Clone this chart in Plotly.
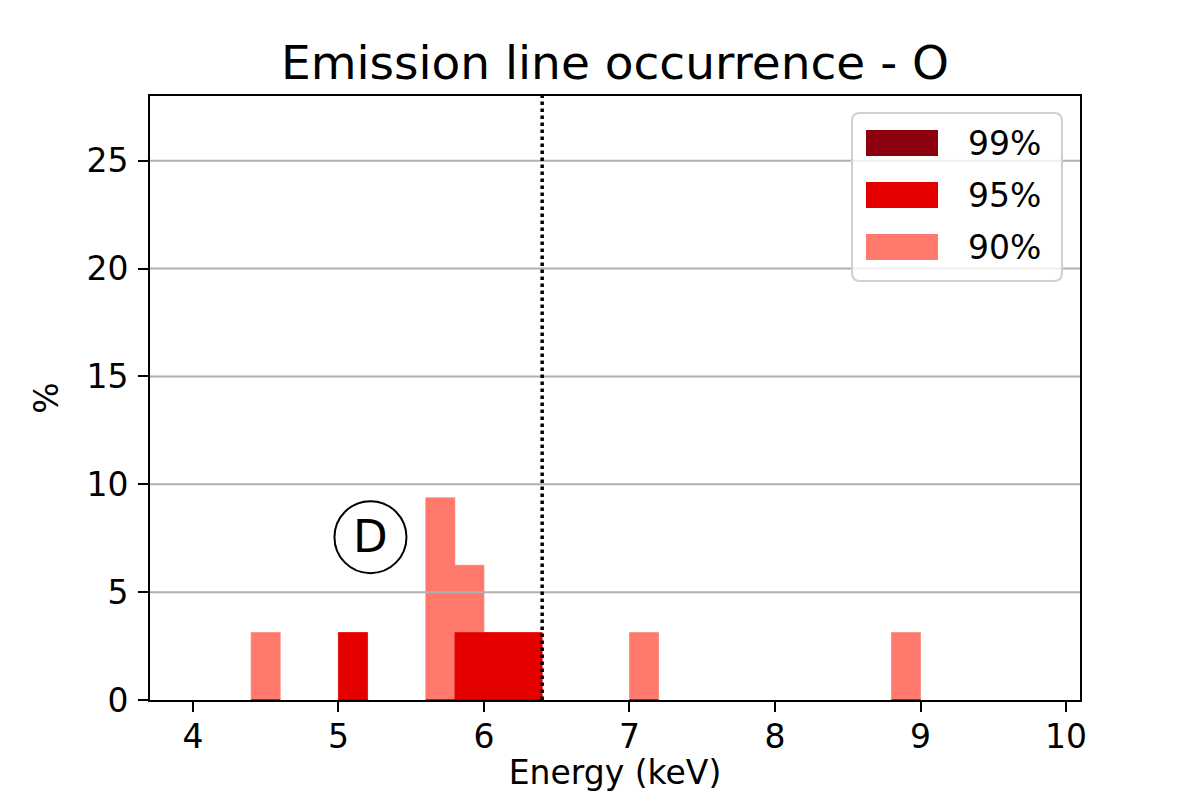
import plotly.graph_objects as go

# Histogram bins (keV, bin centres; bin width 0.2 keV)
energy_bins = [4.5, 5.1, 5.7, 5.9, 6.1, 6.3, 7.1, 8.9]
pct_90 = [3.125, 3.125, 9.375, 6.25, 3.125, 3.125, 3.125, 3.125]
pct_95 = [0.0, 3.125, 0.0, 3.125, 3.125, 3.125, 0.0, 0.0]
pct_99 = [0.0, 0.0, 0.0, 0.0, 0.0, 0.0, 0.0, 0.0]
bin_width = 0.2

series_names = ["90%", "95%", "99%"]
series_values = [pct_90, pct_95, pct_99]
series_colors = ["#ff796c", "#e50000", "#8c000f"]

x_ticks = [4, 5, 6, 7, 8, 9, 10]
y_ticks = [0, 5, 10, 15, 20, 25]
line_energy = 6.4
label_text = "D"
label_pos = (5.22, 7.55)

FONT = "DejaVu Sans"

# plot-area geometry (pixels) used to place the legend box in paper units
PW, PH = 930.0, 604.0


def px(xp):
    return (xp - 150) / PW


def py(yp):
    return (700 - yp) / PH


fig = go.Figure()
for name, vals, col in zip(series_names, series_values, series_colors):
    fig.add_trace(go.Bar(
        x=energy_bins, y=vals, width=bin_width, name=name,
        marker=dict(color=col, line=dict(width=0.6, color=col)), showlegend=False,
    ))

# horizontal grid lines drawn above the bars (as in the reference)
for yt in y_ticks[1:]:
    fig.add_shape(type="line", xref="paper", yref="y", x0=0, x1=1, y0=yt, y1=yt,
                  line=dict(color="#b0b0b0", width=2), layer="above")

# dotted vertical line
fig.add_shape(type="line", xref="x", yref="paper", x0=line_energy, x1=line_energy,
              y0=0, y1=1, line=dict(color="black", width=3.5, dash="dot"), layer="above")

# circled label
fig.add_shape(type="circle", xref="x", yref="y", xsizemode="pixel", ysizemode="pixel",
              xanchor=label_pos[0], yanchor=label_pos[1], x0=-36, x1=36, y0=-36, y1=36,
              line=dict(color="black", width=2), fillcolor="rgba(0,0,0,0)", layer="above")
fig.add_annotation(x=label_pos[0], y=label_pos[1], text=label_text, showarrow=False,
                   font=dict(family=FONT, size=45, color="black"),
                   xanchor="center", yanchor="middle", yshift=1)

# legend box (matplotlib style: rounded, light-grey frame, semi-opaque)
L, R, T, B, rad = 852, 1062, 113, 281, 8
rx, ry = rad / PW, rad / PH
x0, x1, y0, y1 = px(L), px(R), py(B), py(T)
path = (f"M{x0+rx},{y1} L{x1-rx},{y1} Q{x1},{y1} {x1},{y1-ry} "
        f"L{x1},{y0+ry} Q{x1},{y0} {x1-rx},{y0} L{x0+rx},{y0} "
        f"Q{x0},{y0} {x0},{y0+ry} L{x0},{y1-ry} Q{x0},{y1} {x0+rx},{y1} Z")
fig.add_shape(type="path", xref="paper", yref="paper", path=path,
              line=dict(color="#d0d0d0", width=2), fillcolor="rgba(255,255,255,0.8)",
              layer="above")
legend_order = list(zip(series_names, series_colors))[::-1]
for i, (name, col) in enumerate(legend_order):
    cy = 143 + 52 * i
    fig.add_shape(type="rect", xref="paper", yref="paper",
                  x0=px(866), x1=px(938), y0=py(cy + 13), y1=py(cy - 13),
                  line=dict(width=0), fillcolor=col, layer="above")
    fig.add_annotation(xref="paper", yref="paper", x=px(966), y=py(cy), text=name,
                       showarrow=False, xanchor="left", yanchor="middle",
                       font=dict(family=FONT, size=33, color="black"))

fig.update_layout(
    width=1184, height=784,
    barmode="overlay",
    paper_bgcolor="white", plot_bgcolor="white",
    margin=dict(l=142, r=112, t=88, b=92, autoexpand=False),
    font=dict(family=FONT, size=33, color="black"),
    title=dict(text="Emission line occurrence - O", x=(615 - 8) / 1184, xanchor="center",
               y=1 - (63 - 8) / 784, yanchor="middle",
               font=dict(family=FONT, size=47, color="black")),
    showlegend=False,
)
fig.update_xaxes(
    range=[3.705, 10.096], tickvals=x_ticks, ticktext=[str(v) for v in x_ticks],
    showgrid=False, zeroline=False, automargin=False,
    showline=True, mirror=True, linecolor="black", linewidth=2,
    ticks="outside", ticklen=10, tickwidth=2, tickcolor="black",
    ticklabelstandoff=-4,
    title=dict(text="Energy (keV)", standoff=24, font=dict(size=33)),
)
fig.update_yaxes(
    range=[0, 28], tickvals=y_ticks, ticktext=[str(v) for v in y_ticks],
    showgrid=False, zeroline=False, automargin=False,
    showline=True, mirror=True, linecolor="black", linewidth=2,
    ticks="outside", ticklen=10, tickwidth=2, tickcolor="black",
    ticklabelstandoff=3,
    title=dict(text="%", standoff=18, font=dict(size=33)),
)

fig.write_html("out.html")
